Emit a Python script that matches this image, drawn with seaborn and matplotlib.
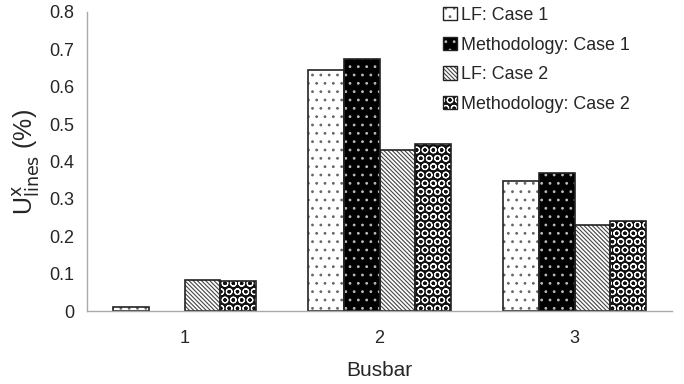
import numpy as np
import pandas as pd
import matplotlib
matplotlib.use("Agg")
import matplotlib.pyplot as plt
import matplotlib.ticker as mticker
from matplotlib.patches import Rectangle, Patch
import seaborn as sns

busbars = ["1", "2", "3"]
series = ["LF: Case 1", "Methodology: Case 1", "LF: Case 2", "Methodology: Case 2"]
lf_case1 = [0.011, 0.645, 0.349]
meth_case1 = [0.0, 0.673, 0.368]
lf_case2 = [0.082, 0.430, 0.230]
meth_case2 = [0.080, 0.446, 0.241]

# fill, hatch colour, hatch pattern
styles = {
    "LF: Case 1": ("white", "#666666", ".."),
    "Methodology: Case 1": ("black", "#bbbbbb", ".."),
    "LF: Case 2": ("white", "#444444", "\\" * 8),
    "Methodology: Case 2": ("#111111", "white", "OO"),
}

df = pd.DataFrame({
    "Busbar": busbars * 4,
    "series": np.repeat(series, 3),
    "value": lf_case1 + meth_case1 + lf_case2 + meth_case2,
})

sns.set_style("white")
plt.rcParams["font.family"] = ["Liberation Sans", "DejaVu Sans"]
plt.rcParams["hatch.linewidth"] = 0.8

fig = plt.figure(figsize=(6.84, 3.84), dpi=100)
ax = fig.add_axes([87 / 684, 73 / 384, 585 / 684, 299 / 384])

sns.barplot(data=df, x="Busbar", y="value", hue="series", hue_order=series,
            width=0.735, gap=0, ax=ax, legend=False)

for i, s in enumerate(series):
    face, hcol, hatch = styles[s]
    for bar in ax.containers[i]:
        bar.set_facecolor(face)
        bar.set_edgecolor(hcol)
        bar.set_hatch(hatch)
        bar.set_linewidth(0)
        if bar.get_height() > 0:
            ax.add_patch(Rectangle(bar.get_xy(), bar.get_width(), bar.get_height(),
                                   fill=False, edgecolor="#222222", linewidth=1.2))

ax.set_ylim(0, 0.8)
ax.set_xlim(-0.5, 2.5)
ax.yaxis.set_major_locator(mticker.MultipleLocator(0.1))
ax.yaxis.set_major_formatter(mticker.FuncFormatter(lambda v, p: "%g" % round(v, 1)))

ax.set_xticks([-0.5, 0.5, 1.5, 2.5])
ax.set_xticklabels([])
ax.set_xticks([0, 1, 2], minor=True)
ax.set_xticklabels(busbars, minor=True)
ax.tick_params(axis="x", which="minor", length=0, pad=14, labelsize=13)
ax.tick_params(axis="x", which="major", length=5, color="#999999", direction="out")
ax.tick_params(axis="y", length=5, color="#999999", direction="out", labelsize=13, pad=4)

for side in ["top", "right"]:
    ax.spines[side].set_visible(False)
for side in ["left", "bottom"]:
    ax.spines[side].set_color("#aaaaaa")
    ax.spines[side].set_linewidth(1)

ax.set_xlabel("Busbar", fontsize=15, labelpad=10)
ax.set_ylabel(r"U$^{\mathrm{x}}_{\mathrm{lines}}$ (%)", fontsize=18, labelpad=5)

handles = []
for s in series:
    face, hcol, hatch = styles[s]
    handles.append((Patch(facecolor=face, edgecolor=hcol, hatch=hatch, linewidth=0),
                    Patch(fill=False, edgecolor="#222222", linewidth=1.0)))
leg = fig.legend(handles, series, loc="upper left", bbox_to_anchor=(436 / 684, 1 - 0 / 384),
                 frameon=False, fontsize=12.9, handlelength=0.75, handleheight=0.75,
                 handletextpad=0.25, labelspacing=0.7, borderaxespad=0)

fig.savefig("out.png", dpi=100)
